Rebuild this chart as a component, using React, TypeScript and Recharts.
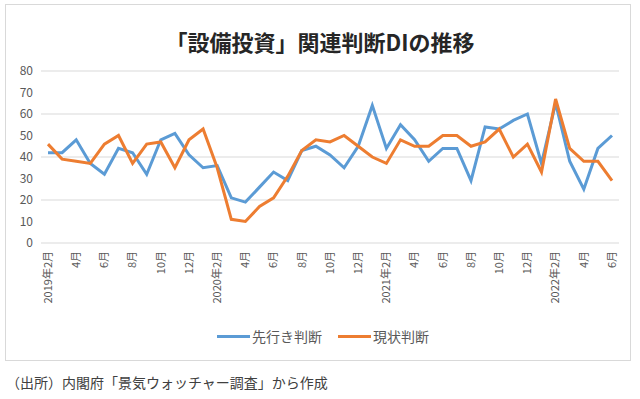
import { LineChart, Line, XAxis, YAxis, CartesianGrid } from "recharts";

// 2019年2月 〜 2022年6月（月次）
const months = [
  "2019年2月", "3月", "4月", "5月", "6月", "7月", "8月", "9月", "10月", "11月", "12月",
  "2020年1月", "2020年2月", "3月", "4月", "5月", "6月", "7月", "8月", "9月", "10月", "11月", "12月",
  "2021年1月", "2021年2月", "3月", "4月", "5月", "6月", "7月", "8月", "9月", "10月", "11月", "12月",
  "2022年1月", "2022年2月", "3月", "4月", "5月", "6月",
];

const forecastDI = [
  42, 42, 48, 37, 32, 44, 42, 32, 48, 51, 41,
  35, 36, 21, 19, 26, 33, 29, 43, 45, 41, 35, 45,
  64, 44, 55, 48, 38, 44, 44, 29, 54, 53, 57, 60,
  37, 65, 38, 25, 44, 50,
];

const currentDI = [
  46, 39, 38, 37, 46, 50, 37, 46, 47, 35, 48,
  53, 35, 11, 10, 17, 21, 31, 43, 48, 47, 50, 45,
  40, 37, 48, 45, 45, 50, 50, 45, 47, 53, 40, 46,
  33, 67, 44, 38, 38, 29,
];

const yTicks = [0, 10, 20, 30, 40, 50, 60, 70, 80];

const seriesNames = { forecast: "先行き判断", current: "現状判断" };
const BLUE = "#5B9BD5";
const ORANGE = "#ED7D31";
const FONT = "'Noto Sans CJK JP', 'Noto Sans', sans-serif";

const data = months.map((m, i) => ({
  month: m,
  forecast: forecastDI[i],
  current: currentDI[i],
}));

function MonthTick(props: any) {
  const { x, y, payload, index } = props;
  if (index % 2 !== 0) return <g />;
  const ty = y;
  return (
    <text
      x={x}
      y={ty}
      transform={`rotate(-90 ${x} ${ty})`}
      textAnchor="end"
      dy="0.35em"
      fontSize={11}
      fill="#595959"
      fontFamily={FONT}
    >
      {payload.value}
    </text>
  );
}

function LegendItem({ color, label }: { color: string; label: string }) {
  return (
    <div style={{ display: "flex", alignItems: "center", marginRight: 16 }}>
      <div style={{ width: 33, height: 3, background: color, marginRight: 2 }} />
      <span style={{ fontSize: 14, color: "#595959", lineHeight: "20px" }}>{label}</span>
    </div>
  );
}

export default function App() {
  return (
    <div
      style={{
        position: "absolute",
        left: 0,
        top: 0,
        width: 640,
        height: 399,
        background: "#fff",
        fontFamily: FONT,
        overflow: "hidden",
      }}
    >
      <div
        style={{
          position: "absolute",
          left: 5,
          top: 4,
          width: 624,
          height: 355,
          border: "1px solid #d9d9d9",
        }}
      />
      <div
        style={{
          position: "absolute",
          top: 25,
          left: 0,
          width: 640,
          textAlign: "center",
          fontSize: 22,
          lineHeight: "32px",
          fontWeight: "bold",
          color: "#262626",
        }}
      >
        「設備投資」関連判断DIの推移
      </div>
      <div style={{ position: "absolute", left: 0, top: 0 }}>
        <LineChart
          width={640}
          height={399}
          data={data}
          margin={{ top: 71, right: 21, left: 11, bottom: 0 }}
        >
          <CartesianGrid vertical={false} stroke="#d9d9d9" />
          <XAxis
            dataKey="month"
            interval={0}
            height={156}
            tickLine={false}
            axisLine={false}
            padding={{ left: 7, right: 7 }}
            tick={<MonthTick />}
          />
          <YAxis
            width={30}
            domain={[0, 80]}
            ticks={yTicks}
            tickLine={false}
            axisLine={false}
            tick={{ fontSize: 12, fill: "#595959", fontFamily: FONT }}
          />
          <Line
            dataKey="forecast"
            name={seriesNames.forecast}
            stroke={BLUE}
            strokeWidth={3}
            dot={false}
            isAnimationActive={false}
          />
          <Line
            dataKey="current"
            name={seriesNames.current}
            stroke={ORANGE}
            strokeWidth={3}
            dot={false}
            isAnimationActive={false}
          />
        </LineChart>
      </div>
      <div
        style={{
          position: "absolute",
          top: 326,
          left: 217,
          display: "flex",
        }}
      >
        <LegendItem color={BLUE} label={seriesNames.forecast} />
        <LegendItem color={ORANGE} label={seriesNames.current} />
      </div>
      <div
        style={{
          position: "absolute",
          top: 372,
          left: 6,
          fontSize: 14,
          lineHeight: "20px",
          color: "#404040",
        }}
      >
        （出所）内閣府「景気ウォッチャー調査」から作成
      </div>
    </div>
  );
}
